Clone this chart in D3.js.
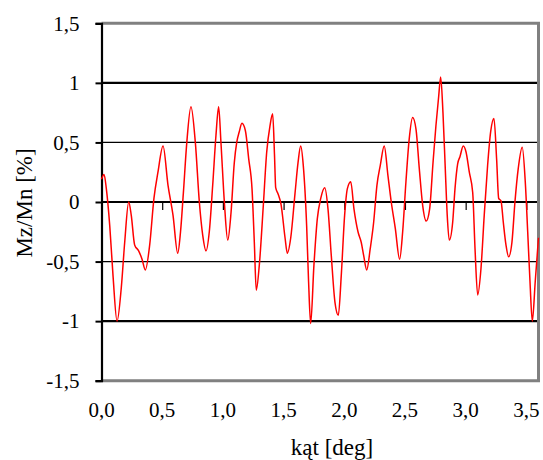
<!DOCTYPE html>
<html>
<head>
<meta charset="utf-8">
<script src="https://cdn.jsdelivr.net/npm/d3@7"></script>
<style>
  body { margin: 0; background: #fff; }
  text { font-family: "Liberation Serif", "Times New Roman", serif; fill: #000; }
</style>
</head>
<body>
<script>
// angle [deg] and Mz/Mn [%]
const kat = [
  0.000, 0.021, 0.040, 0.068, 0.095, 0.128, 0.163, 0.191, 0.224, 0.245,
  0.273, 0.306, 0.334, 0.361, 0.397, 0.432, 0.465, 0.507, 0.548, 0.589,
  0.628, 0.651, 0.674, 0.702, 0.737, 0.773, 0.806, 0.834, 0.861, 0.888,
  0.916, 0.943, 0.965, 0.984, 1.012, 1.040, 1.067, 1.094, 1.114, 1.135,
  1.157, 1.185, 1.213, 1.240, 1.259, 1.275, 1.300, 1.333, 1.361, 1.388,
  1.410, 1.425, 1.435, 1.454, 1.479, 1.512, 1.531, 1.559, 1.594, 1.619,
  1.641, 1.662, 1.690, 1.706, 1.723, 1.750, 1.778, 1.806, 1.839, 1.866,
  1.893, 1.923, 1.951, 1.975, 2.003, 2.025, 2.053, 2.080, 2.113, 2.140,
  2.160, 2.185, 2.214, 2.242, 2.269, 2.297, 2.329, 2.360, 2.387, 2.420,
  2.456, 2.481, 2.508, 2.535, 2.563, 2.591, 2.618, 2.646, 2.675, 2.703,
  2.731, 2.755, 2.778, 2.794, 2.813, 2.832, 2.848, 2.865, 2.893, 2.912,
  2.934, 2.953, 2.980, 3.003, 3.030, 3.058, 3.077, 3.099, 3.126, 3.153,
  3.181, 3.206, 3.233, 3.255, 3.272, 3.291, 3.310, 3.332, 3.354, 3.381,
  3.406, 3.433, 3.466, 3.491, 3.511, 3.530, 3.549, 3.573, 3.600
];
const mzmn = [
  0.19, 0.23, 0.11, -0.20, -0.62, -1.00, -0.72, -0.34, 0.00, -0.11,
  -0.36, -0.41, -0.48, -0.57, -0.36, 0.03, 0.25, 0.47, 0.14, -0.11,
  -0.43, -0.25, 0.07, 0.49, 0.80, 0.50, 0.00, -0.28, -0.41, -0.25,
  0.14, 0.56, 0.80, 0.50, 0.00, -0.32, -0.09, 0.33, 0.50, 0.59,
  0.66, 0.60, 0.36, 0.11, -0.34, -0.74, -0.53, -0.03, 0.42, 0.64,
  0.74, 0.40, 0.12, 0.07, -0.02, -0.30, -0.43, -0.30, 0.07, 0.33,
  0.47, 0.31, -0.20, -0.67, -1.02, -0.53, -0.14, 0.03, 0.12, -0.06,
  -0.45, -0.84, -0.95, -0.62, -0.11, 0.11, 0.17, -0.06, -0.25, -0.34,
  -0.45, -0.57, -0.39, -0.17, 0.14, 0.31, 0.47, 0.22, 0.00, -0.22,
  -0.48, -0.25, 0.17, 0.53, 0.71, 0.61, 0.28, -0.03, -0.16, -0.06,
  0.33, 0.64, 0.89, 1.05, 0.75, 0.28, -0.11, -0.32, -0.17, 0.11,
  0.32, 0.38, 0.47, 0.42, 0.25, 0.08, -0.39, -0.78, -0.56, -0.11,
  0.31, 0.59, 0.70, 0.36, 0.03, 0.01, -0.17, -0.36, -0.46, -0.34,
  0.00, 0.28, 0.46, 0.17, -0.25, -0.67, -1.00, -0.67, -0.30
];
const yTicks = [-1.5, -1, -0.5, 0, 0.5, 1, 1.5];
const xTicks = [0, 0.5, 1, 1.5, 2, 2.5, 3, 3.5];

const width = 543, height = 460;
const plotLeft = 101.5, plotRight = 538.5, plotTop = 23.3, plotBottom = 380.7;
const fmt = v => d3.format(".1f")(v).replace(".", ",").replace("−", "-");
const fmtY = v => (Number.isInteger(v) ? String(v) : fmt(v)).replace("−", "-");

const svg = d3.select("body").append("svg").attr("width", width).attr("height", height);

const x = d3.scaleLinear().domain([0, 3.6]).range([plotLeft, plotRight]);
const y = d3.scaleLinear().domain([-1.5, 1.5]).range([plotBottom, plotTop]);

// gridlines (integers thick, halves thin)
svg.append("g").selectAll("line").data(yTicks.filter(t => Math.abs(t) < 1.5)).join("line")
  .attr("x1", plotLeft).attr("x2", plotRight)
  .attr("y1", d => y(d)).attr("y2", d => y(d))
  .attr("stroke", "#000")
  .attr("stroke-width", d => Number.isInteger(d) ? 2.2 : 1.2);

// plot frame: grey top/right/bottom
svg.append("path")
  .attr("d", `M${plotLeft},${y(1.5)}H${plotRight}V${y(-1.5)}H${plotLeft}`)
  .attr("fill", "none").attr("stroke", "#808080").attr("stroke-width", 3);

// y axis
const yAxis = d3.axisLeft(y).tickValues(yTicks).tickSize(6).tickPadding(16).tickFormat(fmtY);
const gy = svg.append("g").attr("transform", `translate(${plotLeft},0)`).call(yAxis);
gy.attr("font-family", null);
gy.select(".domain").attr("stroke", "#000").attr("stroke-width", 2.2);
gy.selectAll(".tick line").attr("stroke", "#000").attr("stroke-width", 2);
gy.selectAll(".tick text").attr("font-size", 21);

// x axis: ticks hang from the zero line, labels below the frame
const xAxis = d3.axisBottom(x).tickValues(xTicks).tickSize(8).tickFormat("");
const gx = svg.append("g").attr("transform", `translate(0,${y(0)})`).call(xAxis);
gx.select(".domain").remove();
gx.selectAll(".tick line").attr("stroke", "#000").attr("stroke-width", 1.2);
gx.selectAll(".tick").filter(d => d === 0).remove();

svg.append("g").selectAll("text").data(xTicks).join("text")
  .attr("x", d => x(d)).attr("y", 417)
  .attr("text-anchor", "middle").attr("font-size", 21)
  .text(d => fmt(d));

// series
const line = d3.line().x((d, i) => x(kat[i])).y(d => y(d)).curve(d3.curveMonotoneX);
svg.append("path").datum(mzmn)
  .attr("fill", "none").attr("stroke", "#ff0000").attr("stroke-width", 1.5)
  .attr("d", line);

// axis titles
svg.append("text").attr("x", 332).attr("y", 455).attr("text-anchor", "middle")
  .attr("font-size", 23).text("kąt [deg]");
svg.append("text").attr("transform", "translate(32,203) rotate(-90)")
  .attr("text-anchor", "middle").attr("font-size", 23).text("Mz/Mn [%]");
</script>
</body>
</html>
